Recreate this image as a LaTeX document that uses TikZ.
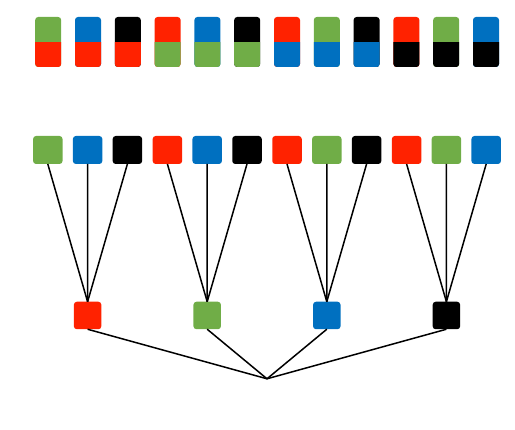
\documentclass[tikz,border=0pt]{standalone}
\usepackage{tikz}
\definecolor{cred}{HTML}{FF2200}
\definecolor{cgreen}{HTML}{70AD47}
\definecolor{cblue}{HTML}{0070C0}
\definecolor{cblack}{HTML}{000000}

\begin{document}
\begin{tikzpicture}[x=1pt,y=1pt,
                    grow'=up,
                    parent anchor=north, child anchor=south,
                    edge from parent/.style={draw,line width=1.5pt},
                    level 1/.style={level distance=63.5pt,sibling distance=119.6pt},
                    level 2/.style={level distance=165.5pt,sibling distance=39.8pt},
                    pairsq/.style={rounded corners=3pt,minimum width=26pt,minimum height=50pt,inner sep=0pt,outer sep=0pt},
                    midsq/.style={rounded corners=3pt,minimum width=29.5pt,minimum height=28pt,inner sep=0pt,outer sep=0pt},
                    lowsq/.style={rounded corners=3pt,minimum width=27.5pt,minimum height=27.5pt,inner sep=0pt,outer sep=0pt}]
    \useasboundingbox (0,0) rectangle (515,430);
    % top row of colour pairs
    \foreach \up/\lo [count=\i] in {cgreen/cred,cblue/cred,cblack/cred,cred/cgreen,cblue/cgreen,cblack/cgreen,
                                    cred/cblue,cgreen/cblue,cblack/cblue,cred/cblack,cgreen/cblack,cblue/cblack}
        \node[pairsq,fill=\up,
              path picture={\fill[\lo,sharp corners] ([xshift=-2pt]path picture bounding box.west)
                                rectangle ([xshift=2pt,yshift=-2pt]path picture bounding box.south east);}]
              (p\i) at ({48.2+39.8*(\i-1)},388) {};
    % tree
    \node[inner sep=0pt,minimum size=0pt] (root) at (267,51) {}
        child {node[lowsq,fill=cred] (r) {}
            child {node[midsq,fill=cgreen] (r1) {}}
            child {node[midsq,fill=cblue] (r2) {}}
            child {node[midsq,fill=cblack] (r3) {}}
        }
        child {node[lowsq,fill=cgreen] (g) {}
            child {node[midsq,fill=cred] (g1) {}}
            child {node[midsq,fill=cblue] (g2) {}}
            child {node[midsq,fill=cblack] (g3) {}}
        }
        child {node[lowsq,fill=cblue] (b) {}
            child {node[midsq,fill=cred] (b1) {}}
            child {node[midsq,fill=cgreen] (b2) {}}
            child {node[midsq,fill=cblack] (b3) {}}
        }
        child {node[lowsq,fill=cblack] (k) {}
            child {node[midsq,fill=cred] (k1) {}}
            child {node[midsq,fill=cgreen] (k2) {}}
            child {node[midsq,fill=cblue] (k3) {}}
        };
\end{tikzpicture}
\end{document}
